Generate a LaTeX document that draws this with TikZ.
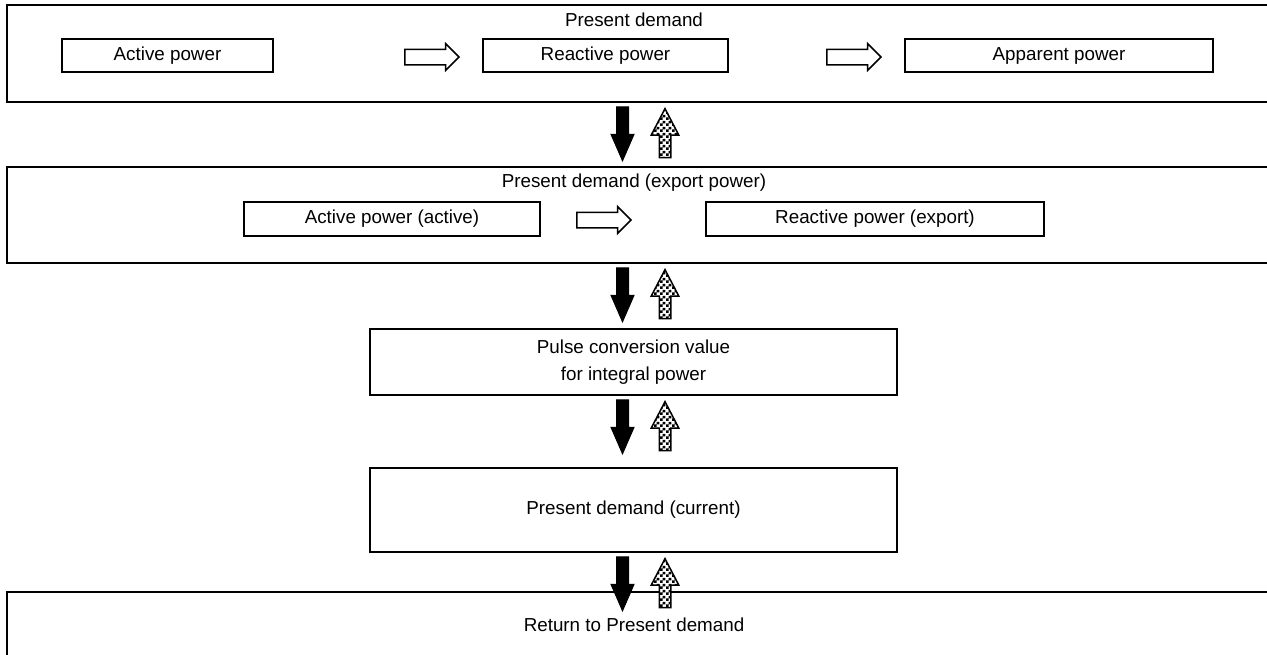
\documentclass[tikz,border=0pt]{standalone}
\usepackage{fontspec}
\setmainfont{Liberation Sans}
\usepackage{tikz}
\usetikzlibrary{positioning,shapes.arrows,patterns,calc}
\newcommand{\diagfont}{\fontsize{9.4pt}{13.5pt}\selectfont}
% small checks for the "up" keys
\pgfdeclarepatternformonly{finechecks}{\pgfpointorigin}{\pgfqpoint{3pt}{3pt}}{\pgfqpoint{3pt}{3pt}}{
  \pgfpathrectangle{\pgfpointorigin}{\pgfqpoint{1.5pt}{1.5pt}}
  \pgfpathrectangle{\pgfqpoint{1.5pt}{1.5pt}}{\pgfqpoint{1.5pt}{1.5pt}}
  \pgfusepath{fill}
}
\tikzset{
  panel/.style={draw, line width=1.3pt, inner sep=0pt, fill=white},
  box/.style={draw, line width=1pt, inner sep=0pt, font=\diagfont, align=center},
  title/.style={font=\diagfont, inner sep=0pt},
  nextarr/.style={single arrow, draw, fill=white, line width=0.75pt, inner sep=3.5pt,
    minimum height=27pt, single arrow head extend=2.75pt,
    single arrow tip angle=90, anchor=tip},
  downarr/.style={single arrow, draw, fill=black, line width=0.5pt, inner sep=2.75pt,
    shape border rotate=270, minimum height=27pt,
    single arrow head extend=2.75pt, single arrow tip angle=47, anchor=tip},
  uparr/.style={single arrow, draw, line width=0.75pt, inner sep=2.5pt,
    preaction={fill=white}, pattern=finechecks,
    shape border rotate=90, minimum height=24.5pt,
    single arrow head extend=4pt, single arrow tip angle=55, anchor=tip},
}
\begin{document}
\begin{tikzpicture}[x=0.5pt, y=-0.5pt]
  \useasboundingbox (0,0) rectangle (1267,654);

  % outer panels
  \node[panel, minimum width=634pt, minimum height=48.5pt] (pd) at (641,53.5) {};
  \node[panel, minimum width=634pt, minimum height=48pt] (pde) at (641,215) {};
  \node[box, line width=1.2pt, minimum width=263.5pt, minimum height=33pt] (pulse) at (633.5,362)
    {Pulse conversion value\\for integral power};
  \node[box, line width=1.2pt, minimum width=263.5pt, minimum height=42pt] (cur) at (633.5,510)
    {Present demand (current)};
  \node[panel, minimum width=634pt, minimum height=44pt] (ret) at (641,636) {};

  % titles
  \node[title] (pdt) at (634,20) {Present demand};
  \node[title] (pdet) at (634,183) {Present demand (export power)};
  \node[title] (rett) at (634,625) {Return to Present demand};

  % first row
  \node[box, minimum width=105.5pt, minimum height=16.5pt] (act) at (167.5,55.5) {Active power};
  \node[box, minimum width=122.5pt, minimum height=16.5pt] (rea) at (605.5,55.5) {Reactive power};
  \node[box, minimum width=154pt, minimum height=16.5pt] (app) at (1059,55.5) {Apparent power};
  \node[nextarr] (n1) at (460,57) {};
  \node[nextarr] (n2) at (882,57) {};

  % second row
  \node[box, minimum width=148pt, minimum height=17pt] (acte) at (392,219) {Active power (active)};
  \node[box, minimum width=169pt, minimum height=17pt] (reae) at (875,219) {Reactive power (export)};
  \node[nextarr] (n3) at (632,220) {};

  % up / down keys
  \node[downarr] (d1) at (622.5,162) {};
  \node[uparr] (u1) at (665,107) {};
  \node[downarr] (d2) at (622.5,323) {};
  \node[uparr] (u2) at (665,268) {};
  \node[downarr] (d3) at (622.5,455) {};
  \node[uparr] (u3) at (665,400) {};
  \node[downarr] (d4) at (622.5,612) {};
  \node[uparr] (u4) at (665,557) {};
\end{tikzpicture}
\end{document}
